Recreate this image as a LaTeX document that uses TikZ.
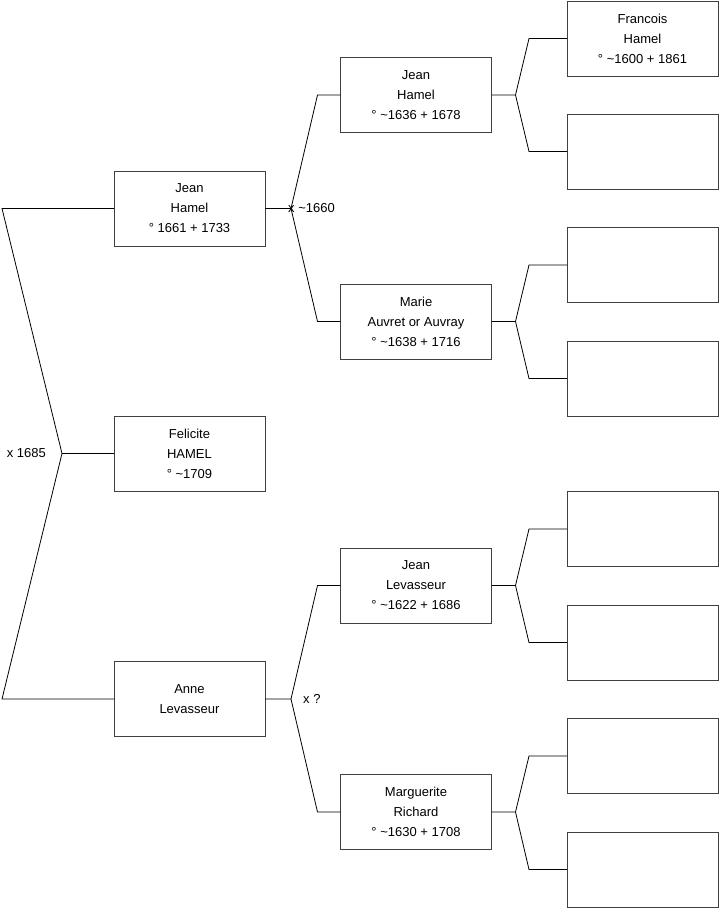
\documentclass[tikz,border=0pt]{standalone}
\usepackage{fontspec}
\setmainfont{Liberation Sans}
\usetikzlibrary{positioning}

\begin{document}
\begin{tikzpicture}[x=1pt,y=-1pt, every node/.style={align=center},
  person/.style={draw=black!75, line width=0.9pt, minimum width=151pt, minimum height=75pt,
    inner sep=0pt, outer sep=0pt, font=\fontsize{13}{20}\selectfont},
  link/.style={line width=0.8pt},
  union/.style={font=\fontsize{13}{15}\selectfont, inner sep=0pt}]
  \useasboundingbox (0,0) rectangle (719,908);
  % generation 1
  \node[person] (jean1) at (189.5,208.5) {Jean\\Hamel\\° 1661 + 1733};
  \node[person] (felicite) at (189.5,453.5) {Felicite\\HAMEL\\° \textasciitilde1709};
  \node[person] (anne) at (189.5,699) {Anne\\Levasseur};
  % generation 2
  \node[person] (jean2) at (416,95) {Jean\\Hamel\\° \textasciitilde1636 + 1678};
  \node[person] (marie) at (416,321.5) {Marie\\Auvret or Auvray\\° \textasciitilde1638 + 1716};
  \node[person] (jeanlev) at (416,585.5) {Jean\\Levasseur\\° \textasciitilde1622 + 1686};
  \node[person] (marguerite) at (416,812) {Marguerite\\Richard\\° \textasciitilde1630 + 1708};
  % generation 3
  \node[person] (francois) at (642.5,38.5) {Francois\\Hamel\\° \textasciitilde1600 + 1861};
  \node[person] (g3b) at (642.5,151.5) {};
  \node[person] (g3c) at (642.5,265) {};
  \node[person] (g3d) at (642.5,378.5) {};
  \node[person] (g3e) at (642.5,529) {};
  \node[person] (g3f) at (642.5,642.5) {};
  \node[person] (g3g) at (642.5,756) {};
  \node[person] (g3h) at (642.5,869.5) {};

  % forks
  \coordinate (v0) at ([xshift=-52pt]felicite.west);
  \draw[link] (felicite.west) -- (v0)
    (v0) -- ([xshift=-112pt]jean1.west) -- (jean1.west)
    (v0) -- ([xshift=-112pt]anne.west) -- (anne.west);
  \node[union, left=16pt of v0] (m0) {x 1685};

  \coordinate (v1) at ([xshift=26pt]jean1.east);
  \draw[link] (jean1.east) -- (v1)
    (v1) -- ([xshift=-23pt]jean2.west) -- (jean2.west)
    (v1) -- ([xshift=-23pt]marie.west) -- (marie.west);
  \node[union, anchor=west] (m1) at ([xshift=-3pt]v1) {x \textasciitilde1660};

  \coordinate (v2) at ([xshift=26pt]anne.east);
  \draw[link] (anne.east) -- (v2)
    (v2) -- ([xshift=-23pt]jeanlev.west) -- (jeanlev.west)
    (v2) -- ([xshift=-23pt]marguerite.west) -- (marguerite.west);
  \node[union, anchor=west] (m2) at ([xshift=12pt]v2) {x ?};

  \coordinate (v3) at ([xshift=24pt]jean2.east);
  \draw[link] (jean2.east) -- (v3)
    (v3) -- ([xshift=-38pt]francois.west) -- (francois.west)
    (v3) -- ([xshift=-38pt]g3b.west) -- (g3b.west);
  \coordinate (v4) at ([xshift=24pt]marie.east);
  \draw[link] (marie.east) -- (v4)
    (v4) -- ([xshift=-38pt]g3c.west) -- (g3c.west)
    (v4) -- ([xshift=-38pt]g3d.west) -- (g3d.west);
  \coordinate (v5) at ([xshift=24pt]jeanlev.east);
  \draw[link] (jeanlev.east) -- (v5)
    (v5) -- ([xshift=-38pt]g3e.west) -- (g3e.west)
    (v5) -- ([xshift=-38pt]g3f.west) -- (g3f.west);
  \coordinate (v6) at ([xshift=24pt]marguerite.east);
  \draw[link] (marguerite.east) -- (v6)
    (v6) -- ([xshift=-38pt]g3g.west) -- (g3g.west)
    (v6) -- ([xshift=-38pt]g3h.west) -- (g3h.west);
\end{tikzpicture}
\end{document}
